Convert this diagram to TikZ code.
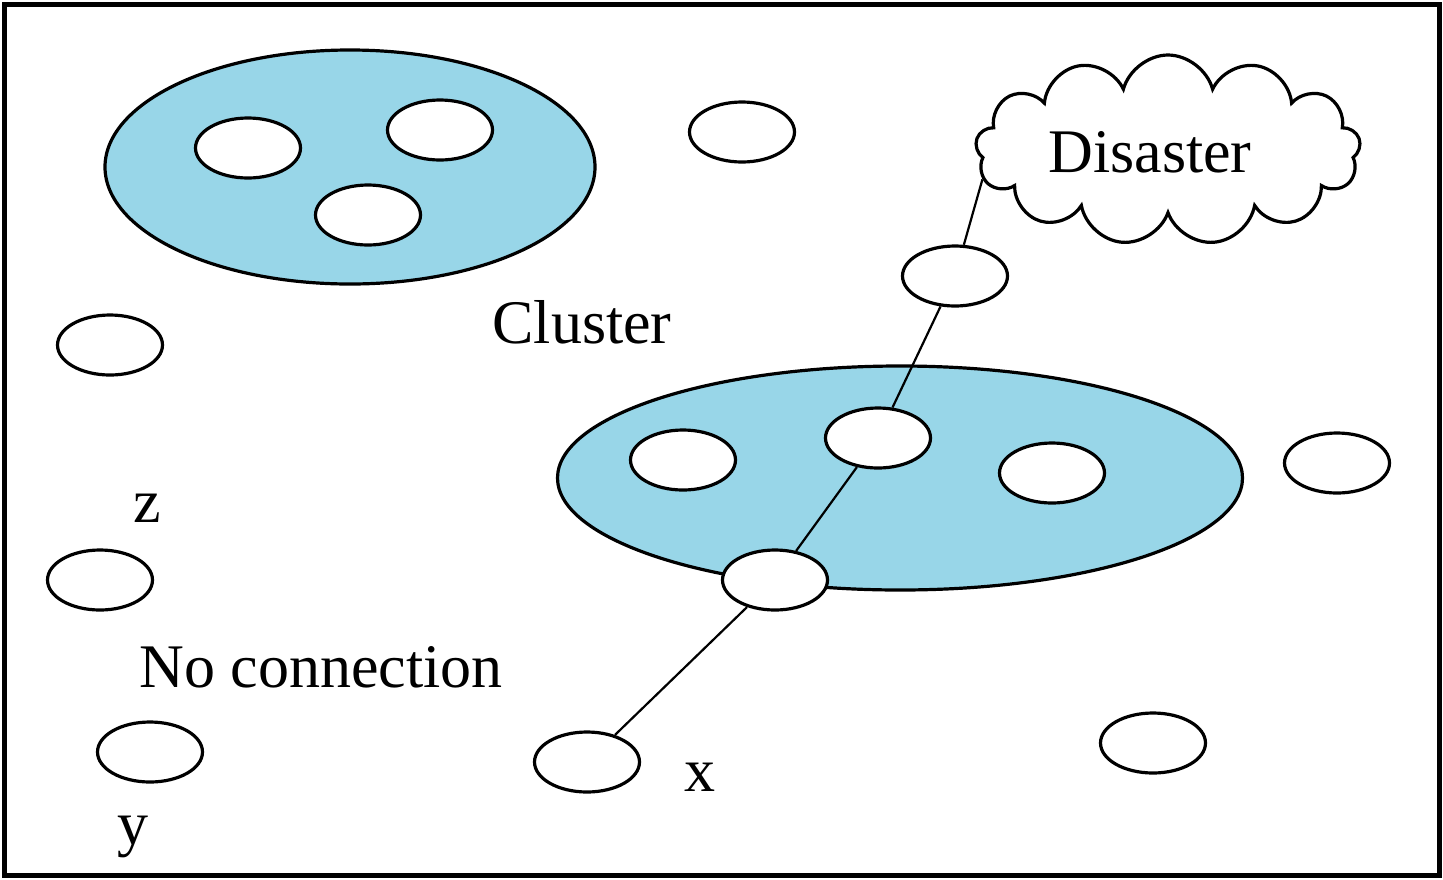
\documentclass[tikz,border=0pt]{standalone}
\usepackage{fontspec}
\setmainfont{Liberation Serif}
\usetikzlibrary{positioning}
\usetikzlibrary{shapes}
\definecolor{clusterblue}{RGB}{152,214,232}
\tikzstyle{host} = [ellipse,draw,line width=3.2pt,fill=white,minimum width=105pt,minimum height=60pt,inner sep=0pt]
\tikzstyle{group} = [ellipse,draw,line width=3.2pt,fill=clusterblue,inner sep=0pt]
\tikzstyle{line} = [draw,line width=2.2pt]
\tikzstyle{tag} = [font=\fontsize{62}{70}\selectfont,inner sep=0pt]

\begin{document}
\begin{tikzpicture}[x=1pt,y=-1pt]
            \useasboundingbox (0,0) rectangle (1443,879);
            \draw[line width=5pt] (4,4) rectangle (1439,875);
            \node[group,minimum width=490pt,minimum height=234pt] (cluster-a) at (350,167) {};
            \node[group,minimum width=685pt,minimum height=224pt] (cluster-b) at (900,478) {};
            \node[host] (a1) at (248,148) {};
            \node[host] (a2) at (440,130) {};
            \node[host] (a3) at (368,215) {};
            \node[host] (b1) at (683,460) {};
            \node[host] (b2) at (878,438) {};
            \node[host] (b3) at (1052,473) {};
            \node[host] (gate) at (775,580) {};
            \node[host] (top) at (742,132) {};
            \node[host] (relay) at (955,276) {};
            \node[host] (left) at (110,345) {};
            \node[host] (right) at (1337,463) {};
            \node[host] (z) at (100,580) {};
            \node[host] (y) at (150,752) {};
            \node[host] (x) at (587,762) {};
            \node[host] (far) at (1153,743) {};
            \node[cloud,draw,line width=3.2pt,cloud puffs=13,aspect=2,minimum width=385pt,minimum height=190pt,inner sep=0pt] (disaster) at (1168,150) {};
            \node[tag] (disaster-label) at (1150,152) {Disaster};
            \node[tag] (cluster-label) at (582,322) {Cluster};
            \node[tag] (none-label) at (321,667) {No connection};
            \node[tag] (z-label) at (147,508) {z};
            \node[tag] (y-label) at (133,837) {y};
            \node[tag] (x-label) at (700,777) {x};
            \path[line] (disaster.189) -- (relay);
            \path[line] (relay) -- (b2);
            \path[line] (b2) -- (gate);
            \path[line] (gate) -- (x);
        \end{tikzpicture}
\end{document}
